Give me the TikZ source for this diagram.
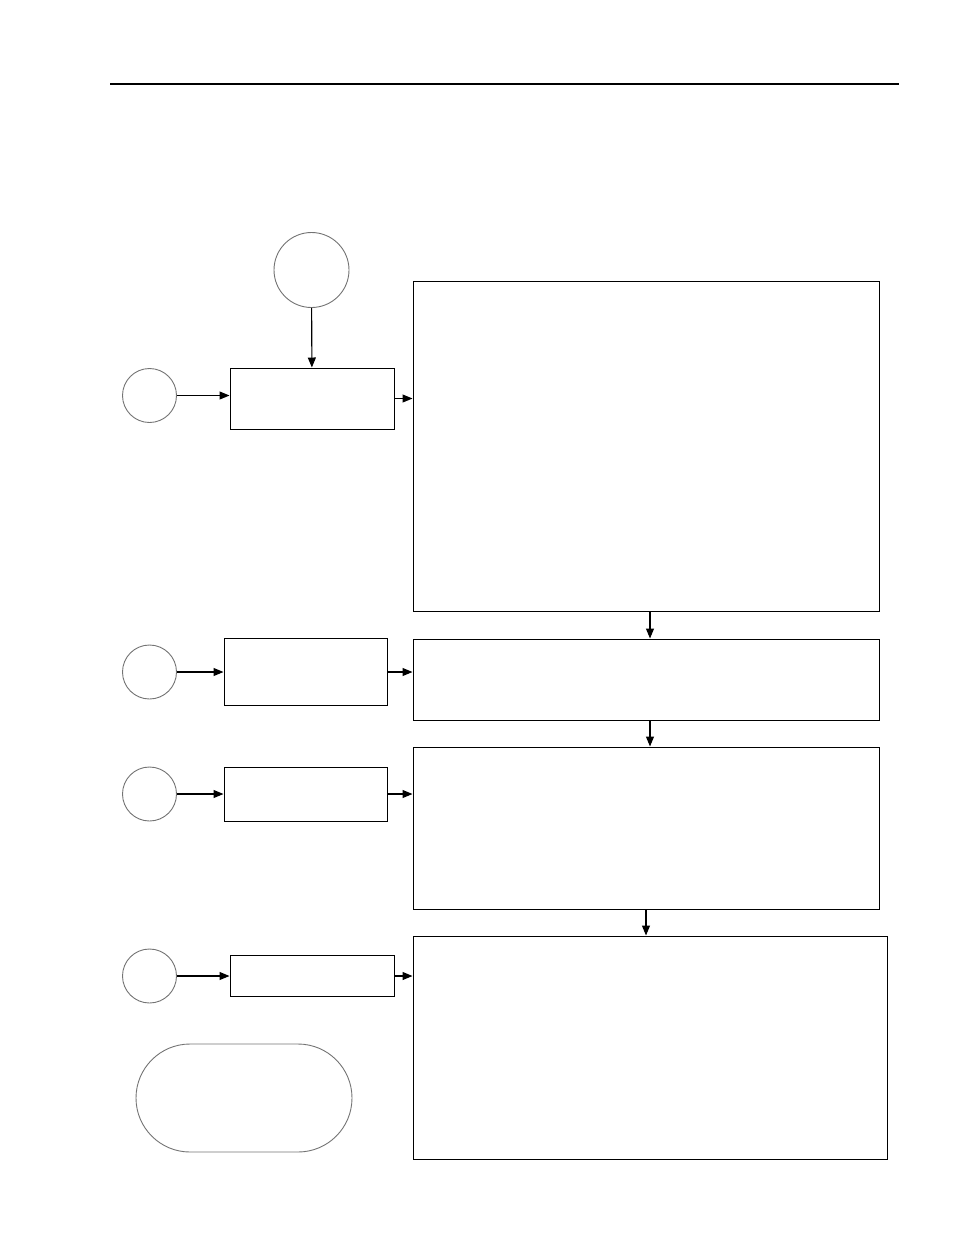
\documentclass[tikz,border=0pt]{standalone}
\usetikzlibrary{arrows.meta,positioning}

\begin{document}
\begin{tikzpicture}[x=1pt,y=-1pt,
    stepbox/.style={draw,line width=1pt,inner sep=0pt},
    conn/.style={draw=black!55,circle,line width=0.9pt,minimum size=54pt,inner sep=0pt},
    flow/.style={-{Triangle[length=10pt,width=8pt]},line width=1.1pt}]
    \useasboundingbox (0,0) rectangle (954,1235);
    \draw[line width=2.5pt] (110,84) -- (899,84);

    \node[conn,minimum size=75pt] (start) at (311.5,270) {};
    \node[conn] (c1) at (149.5,395.5) {};
    \node[stepbox,minimum width=164pt,minimum height=61pt] (b1) at (312,398.5) {};

    \node[stepbox,minimum width=466pt,minimum height=330pt] (pA) at (646,446) {};
    \node[stepbox,minimum width=466pt,minimum height=81pt] (pB) at (646,679.5) {};
    \node[stepbox,minimum width=466pt,minimum height=162pt] (pC) at (646,828) {};
    \node[stepbox,minimum width=474pt,minimum height=223pt] (pD) at (650,1047.5) {};

    \node[conn] (c2) at (149.5,672) {};
    \node[stepbox,minimum width=163pt,minimum height=67pt] (b2) [right of=c2,node distance=156pt] {};
    \node[conn] (c3) at (149.5,794) {};
    \node[stepbox,minimum width=163pt,minimum height=54pt] (b3) [right of=c3,node distance=156pt] {};
    \node[conn] (c4) at (149.5,976) {};
    \node[stepbox,minimum width=164pt,minimum height=41pt] (b4) [right of=c4,node distance=162.5pt] {};

    \node[draw=black!55,line width=0.9pt,minimum width=216pt,minimum height=108pt,rounded corners=54pt] (term) at (244,1098) {};

    \draw[flow] (start) -- (b1);
    \draw[flow] (c1) -- (c1 -| b1.west);
    \draw[flow] (b1.east) -- (b1.east -| pA.west);
    \draw[flow] (c2) -- (b2);
    \draw[flow] (b2) -- (b2 -| pB.west);
    \draw[flow] (c3) -- (b3);
    \draw[flow] (b3) -- (b3 -| pC.west);
    \draw[flow] (c4) -- (b4);
    \draw[flow] (b4) -- (b4 -| pD.west);

    \draw[flow] (pA.south -| pD) -- (pB.north -| pD);
    \draw[flow] (pB.south -| pD) -- (pC.north -| pD);
    \draw[flow] (pC.south) -- (pC.south |- pD.north);
\end{tikzpicture}
\end{document}
